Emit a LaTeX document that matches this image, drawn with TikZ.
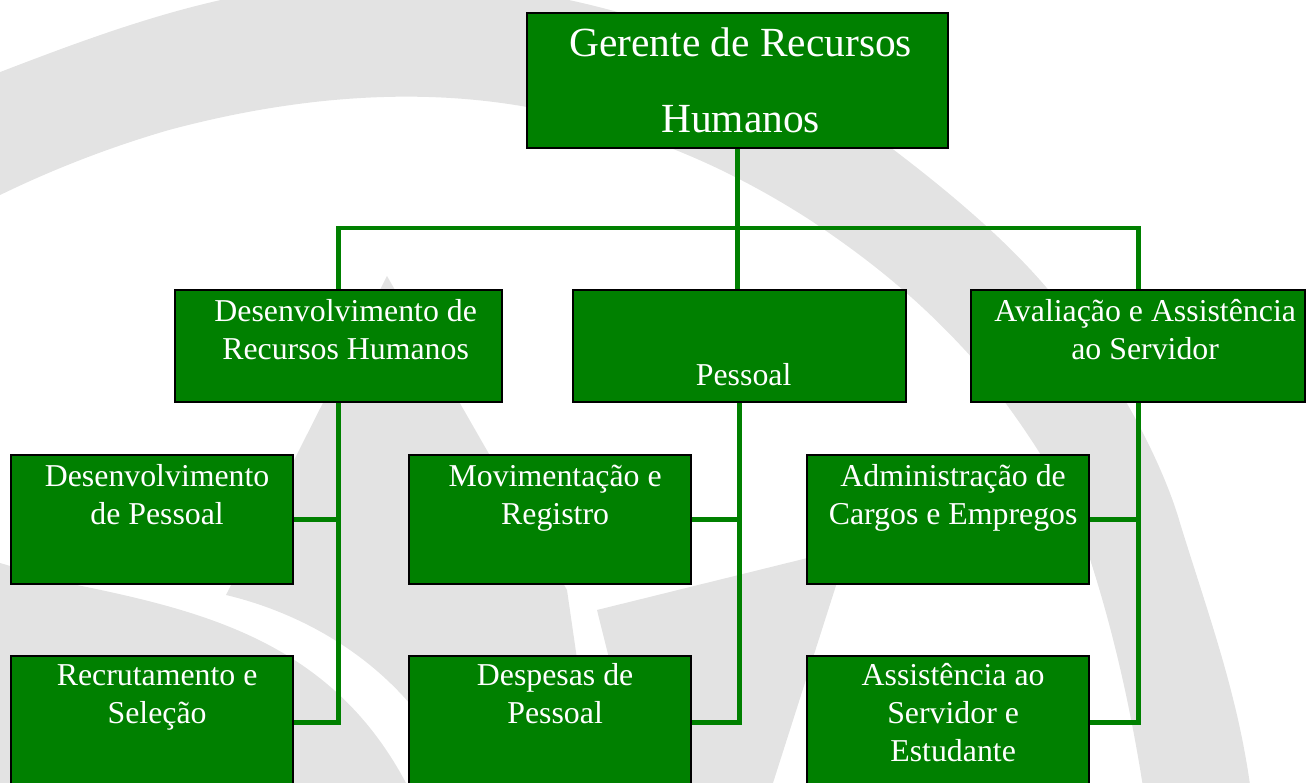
\documentclass[tikz,border=0pt]{standalone}
\usepackage{fontspec}
\setmainfont{Liberation Serif}
\usetikzlibrary{calc}
\definecolor{orggreen}{RGB}{0,128,0}
\definecolor{markgray}{RGB}{227,227,227}

\begin{document}
\begin{tikzpicture}[x=0.01cm,y=-0.01cm,
  orgbox/.style={draw=black,line width=0.6pt,fill=orggreen,anchor=north west,inner sep=0pt,minimum width=2.82cm,minimum height=1.29cm},
  headbox/.style={orgbox,minimum width=3.3cm,minimum height=1.12cm},
  boxtext/.style={text=white,align=center,anchor=north,inner sep=0pt,font=\fontsize{9.05}{10.67}\selectfont},
  link/.style={draw=orggreen,line width=1.4pt},
  wmark/.style={fill=markgray}]
\useasboundingbox (0,0) rectangle (1311,783);
% watermark behind the chart
\begin{scope}
\clip (0,0) rectangle (1311,783);
\fill[wmark] (-10,76) .. controls (70,45) and (150,15) .. (230,-2)
  .. controls (500,-60) and (760,40) .. (890,147)
  .. controls (960,200) and (1010,245) .. (1046,287)
  .. controls (1120,375) and (1165,470) .. (1180,523)
  .. controls (1210,620) and (1240,700) .. (1252,800)
  -- (1145,800)
  .. controls (1130,700) and (1110,620) .. (1088,553)
  .. controls (1060,470) and (1010,410) .. (974,360)
  .. controls (920,300) and (870,260) .. (810,220)
  .. controls (740,175) and (650,130) .. (527,107)
  .. controls (420,88) and (300,95) .. (169,130)
  .. controls (100,150) and (40,175) .. (-10,200) -- cycle;
\fill[wmark] (387,276) -- (226,595) .. controls (310,615) and (410,670) .. (460,783) -- (595,783) -- (567,590) -- cycle;
\fill[wmark] (-10,560) -- (67,583) .. controls (200,610) and (330,640) .. (406,783) -- (-10,783) -- cycle;
\fill[wmark] (597,610) -- (848,548) -- (773,783) -- (640,783) -- cycle;
\end{scope}

% boxes
\node[orgbox,minimum width=4.21cm,minimum height=1.35cm] (grh) at (526,12) {};
\node[text=white,align=center,anchor=north,inner sep=0pt,font=\fontsize{11.78}{21.6}\selectfont] (grh-t) at ($(grh.north)+(3,-9)$) {\strut Gerente de Recursos\\Humanos};

\node[headbox,minimum width=3.27cm] (drh) at (174,289) {};
\node[headbox,minimum width=3.33cm] (pes) at (572,289) {};
\node[headbox,minimum width=3.34cm] (aas) at (970,289) {};
\node[boxtext] (drh-t) at ($(drh.north)+(7,6)$) {\strut Desenvolvimento de\\Recursos Humanos};
\node[boxtext,anchor=base] (pes-t) at ($(pes.south)+(4,-18)$) {Pessoal};
\node[boxtext] (aas-t) at ($(aas.north)+(7,6)$) {\strut Avalia\c{c}\~ao e Assist\^encia\\ao Servidor};

\node[orgbox] (dpe) at (10,454) {};
\node[orgbox] (mov) at (408,454) {};
\node[orgbox] (adm) at (806,454) {};
\node[boxtext] (dpe-t) at ($(dpe.north)+(5,6)$) {\strut Desenvolvimento\\de Pessoal};
\node[boxtext] (mov-t) at ($(mov.north)+(5,6)$) {\strut Movimenta\c{c}\~ao e\\Registro};
\node[boxtext] (adm-t) at ($(adm.north)+(5,6)$) {\strut Administra\c{c}\~ao de\\Cargos e Empregos};

\node[orgbox,minimum height=1.32cm] (rse) at (10,655) {};
\node[orgbox,minimum height=1.32cm] (dep) at (408,655) {};
\node[orgbox,minimum height=1.32cm] (ase) at (806,655) {};
\node[boxtext] (rse-t) at ($(rse.north)+(5,4)$) {\strut Recrutamento e\\Sele\c{c}\~ao};
\node[boxtext] (dep-t) at ($(dep.north)+(5,4)$) {\strut Despesas de\\Pessoal};
\node[boxtext] (ase-t) at ($(ase.north)+(5,4)$) {\strut Assist\^encia ao\\Servidor e\\Estudante};

% connectors
\coordinate (bus) at (737,228);
\draw[link] (grh.south) -- (grh.south |- pes.north);
\draw[link] (drh.north) |- (bus) -| (aas.north);
\draw[link] (drh.south) |- (rse.east);
\draw[link] (dpe.east) -- (dpe.east -| drh.south);
\draw[link] (pes.south) |- (dep.east);
\draw[link] (mov.east) -- (mov.east -| pes.south);
\draw[link] (aas.south) |- (ase.east);
\draw[link] (adm.east) -- (adm.east -| aas.south);
\end{tikzpicture}
\end{document}
